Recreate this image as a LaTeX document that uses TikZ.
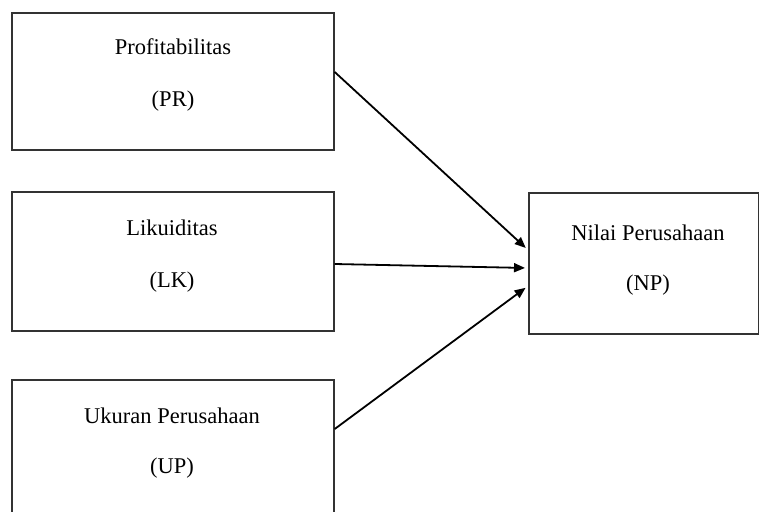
\documentclass[tikz,border=0pt]{standalone}
\usepackage{fontspec}
\setmainfont{Liberation Serif}
\usetikzlibrary{arrows.meta,calc}
\begin{document}
\begin{tikzpicture}[x=1pt,y=-1pt,
  box/.style={draw=black!80,line width=1.7pt,rectangle,inner sep=0pt,anchor=north west},
  lbl/.style={anchor=base,inner sep=0pt,font=\fontsize{22.5}{26}\selectfont},
  conn/.style={line width=1.8pt,-{Triangle[length=11pt,width=9pt]},shorten >=3pt}]
\useasboundingbox (0,0) rectangle (759,511);
\node[box,minimum width=322pt,minimum height=137pt] (pr) at (11,12) {};
\node[box,minimum width=322pt,minimum height=139pt] (lk) at (11,191) {};
\node[box,minimum width=322pt,minimum height=140pt] (up) at (11,379) {};
\node[box,minimum width=230pt,minimum height=141pt] (np) at (528,192) {};
\node[lbl] (pr1) at (173,55) {Profitabilitas};
\node[lbl] (pr2) at (173,106) {(PR)};
\node[lbl] (lk1) at (172,235) {Likuiditas};
\node[lbl] (lk2) at (172,287) {(LK)};
\node[lbl] (up1) at (172,423) {Ukuran Perusahaan};
\node[lbl] (up2) at (172,473) {(UP)};
\node[lbl] (np1) at (648,240) {Nilai Perusahaan};
\node[lbl] (np2) at (648,290) {(NP)};
\coordinate (a1) at ($(pr.north east)+(0,60)$);
\coordinate (a2) at ($(lk.north east)+(0,73)$);
\coordinate (a3) at ($(up.north east)+(0,50)$);
\coordinate (b1) at ($(np.north west)+(0,58)$);
\coordinate (b2) at ($(np.north west)+(0,76)$);
\coordinate (b3) at ($(np.north west)+(0,94)$);
\draw[conn] (a1) -- (b1);
\draw[conn] (a2) -- (b2);
\draw[conn] (a3) -- (b3);
\end{tikzpicture}
\end{document}
